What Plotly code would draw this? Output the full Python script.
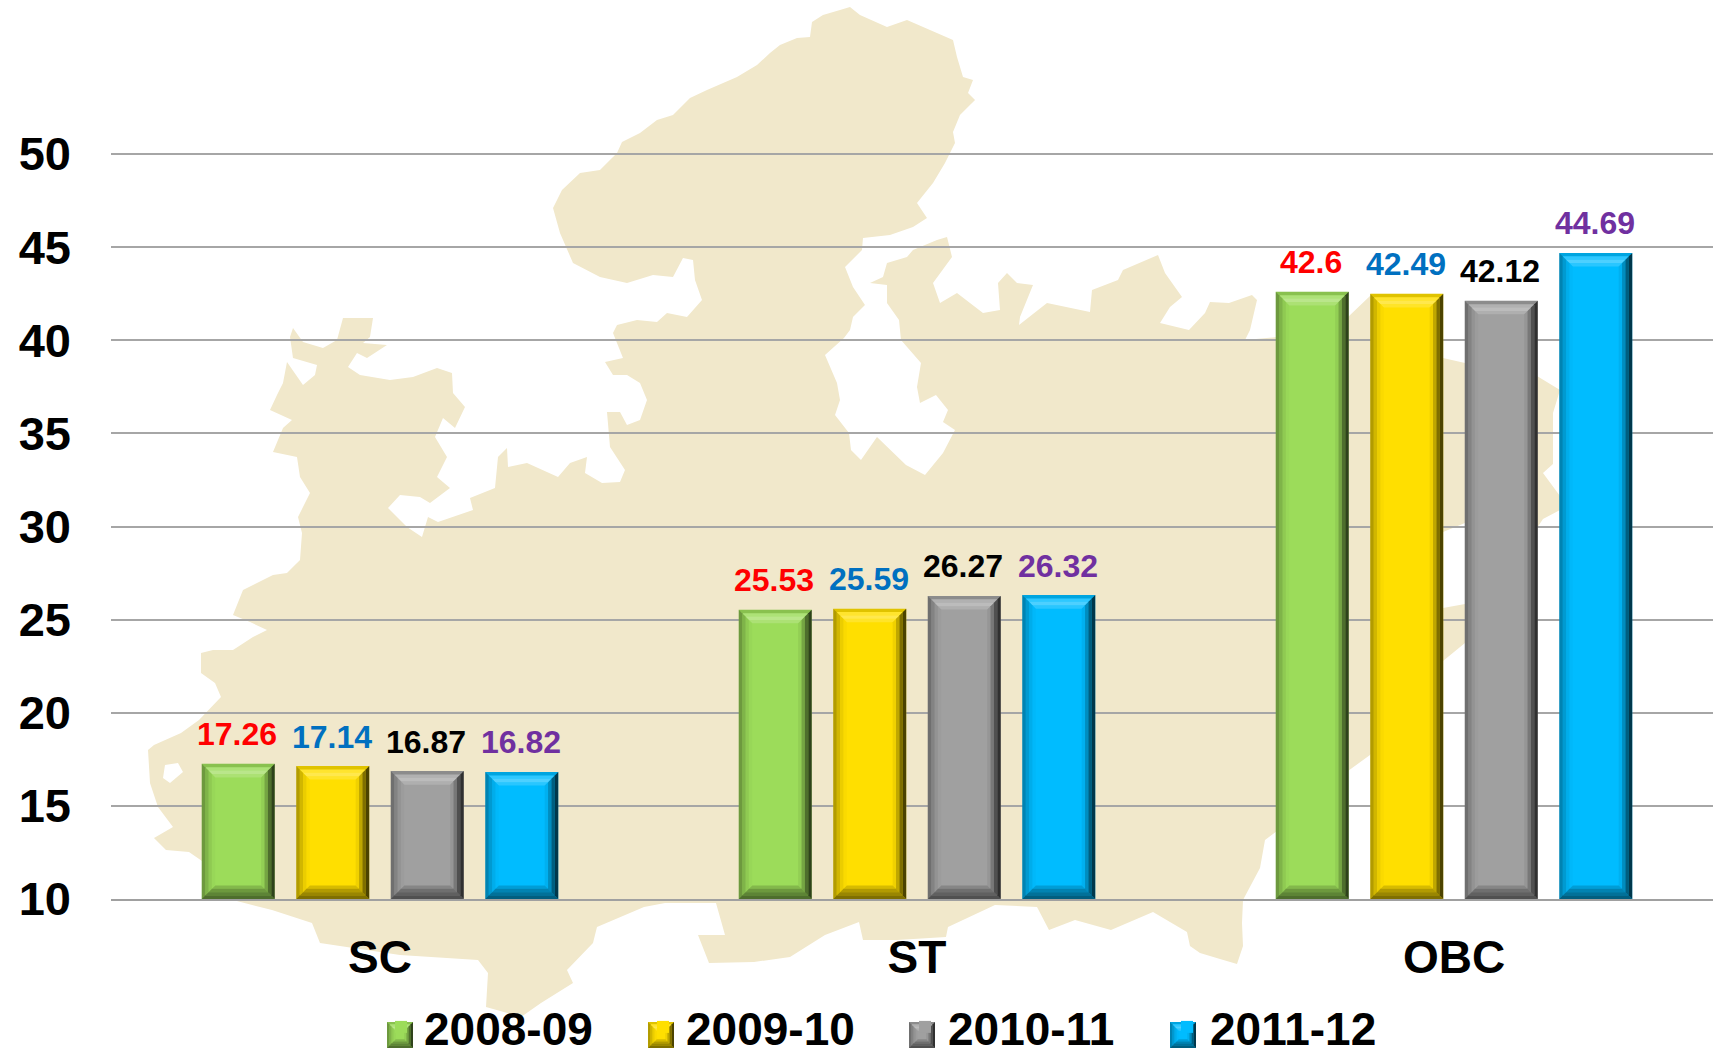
import plotly.graph_objects as go

categories = ["SC", "ST", "OBC"]
years = ["2008-09", "2009-10", "2010-11", "2011-12"]
v_2008_09 = [17.26, 25.53, 42.6]
v_2009_10 = [17.14, 25.59, 42.49]
v_2010_11 = [16.87, 26.27, 42.12]
v_2011_12 = [16.82, 26.32, 44.69]
series_values = [v_2008_09, v_2009_10, v_2010_11, v_2011_12]
bar_colors = ["#9cdc5a", "#ffdf00", "#a0a0a0", "#00bcff"]
label_colors = ["#ff0000", "#0070c0", "#000000", "#7030a0"]
y_ticks = [10, 15, 20, 25, 30, 35, 40, 45, 50]

# Decorative backdrop: state silhouette, in page pixels.
map_outline = [
 (850,7),(860,15),(887,27),(907,20),(930,30),(953,40),(957,57),(963,77),(973,80),(968,93),(975,100),
 (960,115),(953,132),(955,143),(945,163),(933,183),(917,203),(927,218),(913,227),(890,235),(863,238),
 (862,250),(845,267),(853,287),(865,305),(853,317),(850,330),(844,338),(825,355),(837,383),(840,400),
 (835,415),(849,433),(851,450),(861,460),(877,437),(906,465),(925,475),(943,453),(955,430),(943,422),
 (948,410),(936,395),(920,403),(917,387),(921,363),(901,340),(899,320),(887,303),(887,285),(870,283),
 (883,277),(887,263),(907,257),(913,250),(937,240),(947,237),(952,257),(933,283),(940,303),(957,293),
 (970,303),(983,313),(1000,310),(998,283),(1007,273),(1017,283),(1033,285),(1020,317),(1019,325),
 (1047,303),(1090,312),(1092,290),(1118,280),(1123,270),(1158,255),(1165,273),(1182,297),(1170,307),
 (1160,323),(1189,330),(1205,313),(1210,302),(1229,303),(1252,295),(1257,300),(1250,330),(1245,340),
 (1278,337),(1348,317),(1370,296),(1410,320),(1443,358),(1465,363),(1537,376),(1560,390),(1553,413),
 (1553,464),(1543,473),(1560,496),(1560,510),(1543,519),(1537,528),(1465,523),(1443,532),(1400,570),
 (1443,608),(1465,604),(1500,625),(1465,643),(1443,661),(1370,755),(1348,771),(1300,810),(1277,831),
 (1265,840),(1260,868),(1243,900),(1242,923),(1243,946),(1237,964),(1220,959),(1200,953),(1190,946),
 (1187,932),(1153,912),(1111,930),(1075,920),(1049,930),(1037,907),(995,905),(948,927),(946,937),
 (897,940),(863,940),(859,922),(825,935),(790,957),(754,962),(709,963),(698,935),(725,935),(716,903),
 (665,903),(644,907),(597,927),(593,943),(567,970),(573,983),(541,1003),(521,1017),(486,1007),(488,973),
 (478,960),(400,955),(320,943),(312,923),(272,910),(233,900),(215,870),(189,852),(166,850),(154,838),
 (173,827),(158,807),(150,783),(148,750),(154,745),(181,733),(199,720),(221,697),(215,683),(201,673),
 (201,653),(213,650),(233,650),(253,637),(267,630),(250,622),(233,615),(243,590),(273,575),(287,573),
 (300,560),(302,533),(298,517),(310,493),(300,477),(297,457),(273,452),(283,428),(292,420),(270,410),
 (277,395),(283,383),(287,362),(303,385),(315,375),(317,365),(293,358),(290,337),(293,328),(303,342),
 (323,348),(337,340),(343,318),(373,318),(370,337),(363,343),(387,345),(367,358),(357,353),(348,367),
 (360,375),(390,380),(413,377),(437,368),(452,373),(453,393),(465,407),(455,428),(443,418),(435,437),
 (447,457),(437,477),(450,488),(430,503),(420,497),(400,495),(388,508),(407,527),(422,537),(428,517),
 (438,522),(473,510),(470,498),(495,488),(498,457),(507,448),(508,467),(527,463),(558,477),(570,463),
 (587,457),(585,473),(602,483),(620,482),(625,470),(610,447),(607,412),(620,412),(627,425),(640,420),
 (647,400),(640,383),(627,375),(613,375),(605,362),(623,358),(613,333),(617,325),(637,320),(657,322),
 (667,313),(687,317),(702,300),(695,280),(693,260),(683,258),(673,277),(653,275),(627,283),(600,277),
 (573,263),(560,233),(553,208),(562,190),(580,173),(600,170),(617,153),(622,142),(640,133),(657,120),
 (673,115),(690,98),(707,90),(737,77),(757,65),(770,53),(780,45),(797,38),(810,37),(812,22),(823,15),(840,10),
]
map_hole = [(165,765),(163,778),(170,783),(183,772),(178,763)]

W, H = 1713, 1055
L, T, B = 111, 150, 899
PLOT_W = W - L
CAT_PX = 537.0
UNIT_PX = 18.625
Y_TOP = 10 + (B - T) / UNIT_PX
BARGAP, GROUPGAP = 0.296, 0.228
SLOT = (1 - BARGAP) / 4
BAR_W = SLOT * (1 - GROUPGAP)

def px(x): return (x - L) / PLOT_W
def py(y): return (B - y) / (B - T)
def subpath(pts): return "M" + "L".join(f"{px(x):.5f},{py(y):.5f}" for x, y in pts) + "Z"

BANDS = {
    "top": [(0, 0, 0, .12), (255, 255, 255, .18), (255, 255, 255, .30), (255, 255, 255, .16)],
    "left": [(0, 0, 0, .30), (0, 0, 0, .18), (0, 0, 0, .08), (0, 0, 0, .02)],
    "right": [(0, 0, 0, .70), (0, 0, 0, .50), (0, 0, 0, .25), (0, 0, 0, .06)],
    "bottom": [(0, 0, 0, .50), (0, 0, 0, .40), (0, 0, 0, .30), (0, 0, 0, .16)],
}

def bevel(l, r, b, t, dx, dy, xref, yref):
    """Light/dark mitred strips laid over a rectangle; dx, dy = strip depth per band."""
    out = []
    for side, cols in BANDS.items():
        for k, c in enumerate(cols):
            a, e = k, k + 1
            if side == "top":
                pts = [(l+a*dx, t-a*dy), (r-a*dx, t-a*dy), (r-e*dx, t-e*dy), (l+e*dx, t-e*dy)]
            elif side == "bottom":
                pts = [(l+a*dx, b+a*dy), (r-a*dx, b+a*dy), (r-e*dx, b+e*dy), (l+e*dx, b+e*dy)]
            elif side == "left":
                pts = [(l+a*dx, t-a*dy), (l+e*dx, t-e*dy), (l+e*dx, b+e*dy), (l+a*dx, b+a*dy)]
            else:
                pts = [(r-a*dx, t-a*dy), (r-e*dx, t-e*dy), (r-e*dx, b+e*dy), (r-a*dx, b+a*dy)]
            path = "M" + "L".join(f"{x:.5f},{y:.5f}" for x, y in pts) + "Z"
            out.append(dict(type="path", path=path, xref=xref, yref=yref, layer="above",
                            line=dict(width=0), fillcolor=f"rgba({c[0]},{c[1]},{c[2]},{c[3]})"))
    return out

FONT = "Liberation Sans"
fig = go.Figure()
shapes = [dict(type="path", xref="paper", yref="paper", layer="below", line=dict(width=0),
               fillcolor="#f1e8cb", path=subpath(map_outline) + subpath(map_hole))]
annotations = []

for i, (name, vals) in enumerate(zip(years, series_values)):
    fig.add_trace(go.Bar(name=name, x=categories, y=vals, marker=dict(color=bar_colors[i], line=dict(width=0))))
    offset = (i - 1.5) * SLOT
    for j, v in enumerate(vals):
        c = j + offset
        shapes += bevel(c - BAR_W/2, c + BAR_W/2, 10, v, 3.4/CAT_PX, 3.4/UNIT_PX, "x", "y")
        annotations.append(dict(x=c, y=v, xref="x", yref="y", text=str(v), showarrow=False,
                                yanchor="middle", yshift=29.5, xshift=-1,
                                font=dict(family=FONT, size=32, color=label_colors[i], weight="bold")))
    # Enlarged key swatch laid over the legend's own symbol
    sx = 387 + i * 261
    shapes.append(dict(type="rect", xref="paper", yref="paper", layer="above", line=dict(width=0),
                       fillcolor=bar_colors[i], x0=px(sx), x1=px(sx+26), y0=py(1048), y1=py(1022)))
    shapes += bevel(px(sx), px(sx+26), py(1048), py(1022), 2.2/PLOT_W, 2.2/(B-T), "paper", "paper")

fig.update_layout(
    width=W, height=H, plot_bgcolor="rgba(0,0,0,0)", paper_bgcolor="white",
    margin=dict(l=L, r=0, t=T, b=H-B, autoexpand=False),
    barmode="group", bargap=BARGAP, bargroupgap=GROUPGAP,
    shapes=shapes, annotations=annotations,
    font=dict(family=FONT, color="black"),
    showlegend=True,
    legend=dict(orientation="h", xanchor="left", yanchor="middle", x=px(378), y=py(1027),
                itemwidth=36, entrywidth=211, entrywidthmode="pixels", traceorder="normal",
                font=dict(family=FONT, size=46, color="black", weight="bold"),
                bgcolor="rgba(0,0,0,0)", itemclick=False, itemdoubleclick=False),
    xaxis=dict(type="category", categoryorder="array", categoryarray=categories,
               range=[-(380-L)/CAT_PX, (W-380)/CAT_PX], showgrid=False, zeroline=False,
               showline=True, linecolor="#a0a0a0", linewidth=2, ticks="",
               ticklabelstandoff=17, tickfont=dict(family=FONT, size=46, color="black", weight="bold")),
    yaxis=dict(range=[10, Y_TOP], tickmode="array", tickvals=y_ticks, ticktext=[str(t) for t in y_ticks],
               showgrid=True, gridcolor="#a6a6a6", gridwidth=2, zeroline=False, showline=False, ticks="",
               ticklabelstandoff=39, tickfont=dict(family=FONT, size=47, color="black", weight="bold")),
)

fig.write_html("out.html", config=dict(displayModeBar=False),
               post_script="document.body.style.margin='0';document.body.style.overflow='hidden';")
